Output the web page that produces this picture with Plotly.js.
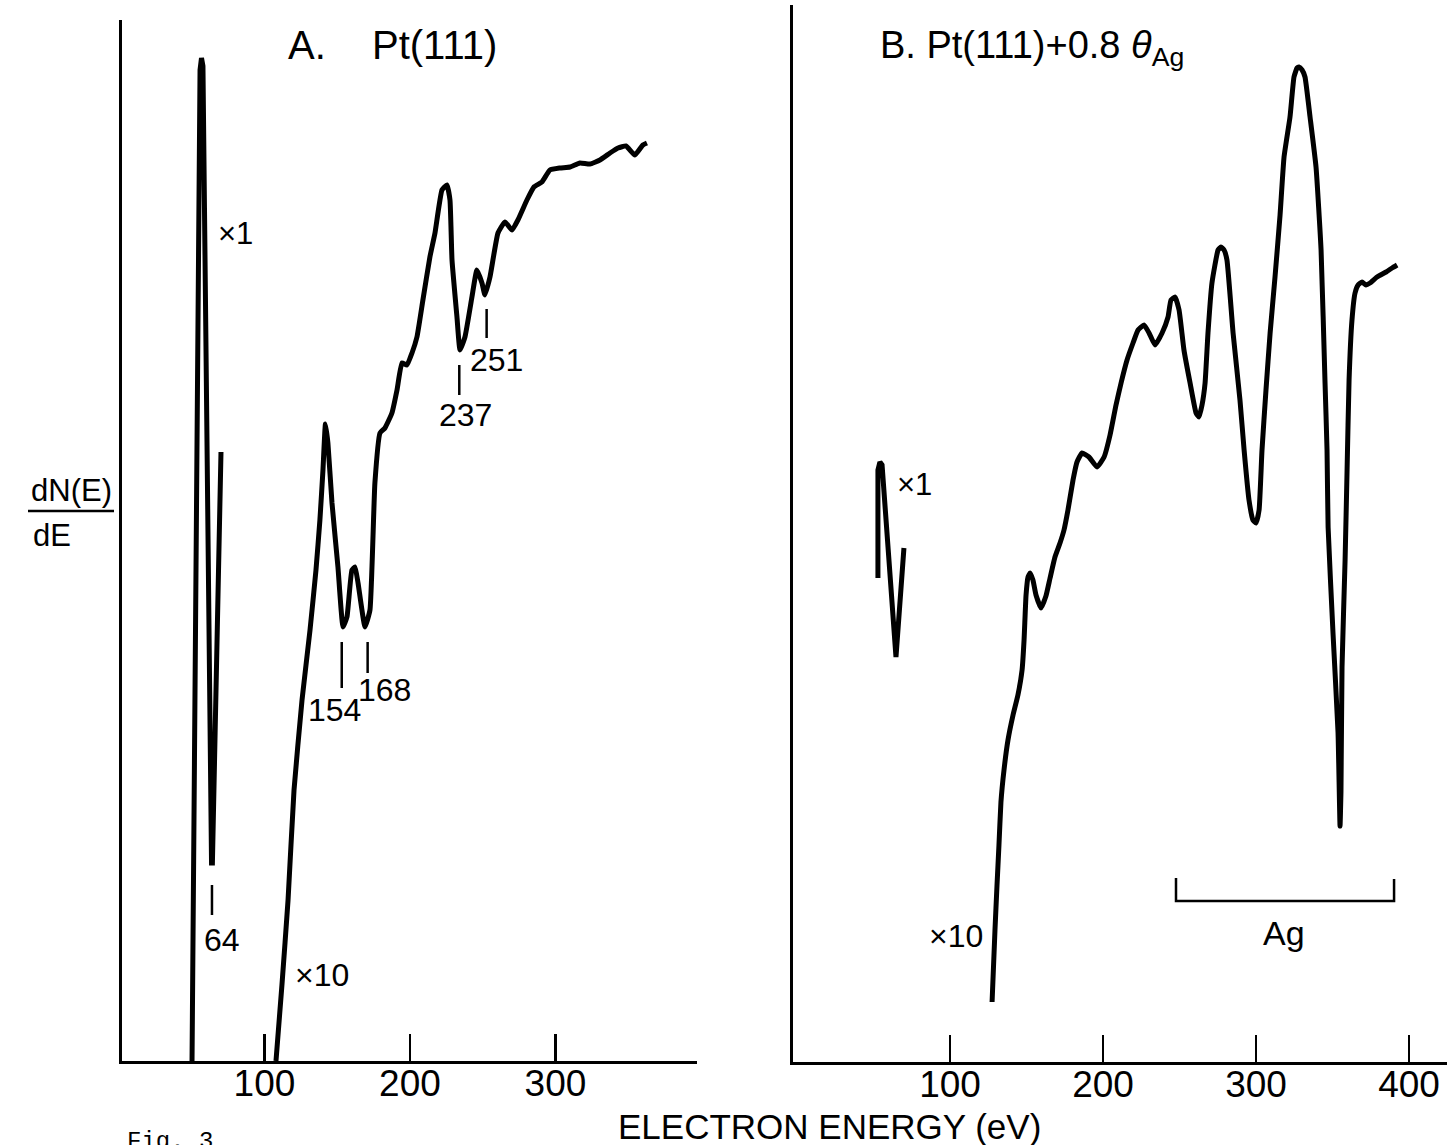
<!DOCTYPE html>
<html>
<head>
<meta charset="utf-8">
<script src="https://cdn.plot.ly/plotly-3.0.1.min.js"></script>
<style>html,body{margin:0;padding:0;background:#fff;}#chart{width:1447px;height:1145px;}</style>
</head>
<body>
<div id="chart"></div>
<script>
// ---------- data (electron energy in eV, dN(E)/dE in arbitrary units) ----------
// Panel A: Pt(111), x1 trace
const energyA_x1 = [50.2, 55.7, 56.7, 57.7, 63.6, 64.2, 70.1];
const dNdE_A_x1  = [0.0, 99.1, 100.3, 99.5, 19.8, 19.8, 60.9];
// Panel A: Pt(111), x10 trace
const energyA_x10 = [107.9,112.0,116.2,120.3,125.8,131.3,135.4,138.1,140.2,141.9,143.6,146.4,150.5,154.0,156.7,160.1,162.2,164.3,169.1,172.5,175.9,179.4,182.8,187.6,191.1,194.5,197.9,201.4,204.8,208.9,213.7,217.2,222.0,225.4,227.5,228.9,232.3,234.4,237.8,242.6,246.0,249.5,251.5,255.0,260.5,265.3,270.1,274.2,280.4,285.2,290.7,296.2,303.1,310.0,316.8,323.7,330.6,337.5,343.0,348.5,354.6,360.1,362.9];
const dNdE_A_x10  = [0.0,7.6,16.1,27.1,36.1,43.1,49.1,54.1,59.1,63.7,61.8,55.8,49.4,43.4,44.4,49.1,49.4,47.8,43.4,45.1,57.8,62.8,63.3,64.8,67.1,69.8,69.6,70.8,72.4,76.1,80.4,82.8,87.1,87.6,86.1,80.1,74.4,71.1,72.4,76.4,79.1,77.8,76.6,78.4,82.8,83.9,83.1,84.1,86.1,87.4,87.9,89.1,89.3,89.4,89.8,89.7,90.1,90.8,91.3,91.5,90.6,91.6,91.8];
// Panel B: Pt(111) + 0.8 theta_Ag, x1 trace
const energyB_x1 = [52.9, 52.9, 54.2, 55.6, 64.7, 69.9];
const dNdE_B_x1  = [48.4, 59.2, 60.0, 59.7, 40.5, 51.4];
// Panel B: x10 trace
const energyB_x10 = [127.5,129.4,130.7,132.0,133.3,135.3,137.9,141.2,144.4,147.1,148.4,149.7,151.0,152.3,154.2,156.2,159.5,162.7,165.4,168.6,171.9,174.5,177.1,180.4,183.0,186.3,190.8,196.1,200.7,204.6,208.5,211.8,215.7,219.6,222.9,226.8,230.1,234.0,238.6,242.5,244.4,247.1,249.7,252.9,256.9,260.8,262.7,264.7,266.7,268.6,271.2,275.2,277.1,279.1,281.0,285.0,289.5,292.2,295.4,298.0,300.0,302.0,303.9,306.5,309.2,312.4,315.7,318.3,322.2,324.8,326.8,328.1,330.1,332.0,335.3,339.2,342.5,345.1,346.4,347.1,350.3,353.6,354.9,355.5,356.2,358.2,359.5,360.8,362.7,364.7,366.7,369.3,371.9,374.5,379.1,385.0,388.9,392.2];
const dNdE_B_x10  = [6.0,13.2,17.6,21.7,26.0,29.2,32.2,34.7,36.7,39.2,42.2,46.7,48.5,48.9,48.2,46.7,45.4,46.6,48.4,50.5,51.9,53.2,55.2,58.2,60.0,60.9,60.5,59.5,60.5,62.7,65.7,67.9,70.2,71.9,73.2,73.7,72.9,71.7,72.9,74.5,76.2,76.5,75.2,71.2,67.9,64.9,64.5,65.7,67.9,72.9,77.9,81.2,81.5,81.2,80.2,72.9,66.2,61.2,56.2,54.2,53.9,55.2,61.2,67.2,72.9,78.5,84.7,90.5,94.5,98.5,99.4,99.5,99.2,98.5,94.5,89.5,81.2,67.9,61.2,53.5,42.9,32.9,23.6,27.0,39.5,50.2,59.2,68.2,74.2,76.9,77.7,78.0,77.7,77.9,78.5,79.0,79.4,79.7];
// tick labels
const tickA = [100, 200, 300];
const tickB = [100, 200, 300, 400];
// peak labels (panel A): text, energy of marker
const peakLabelsA = ["64", "154", "168", "237", "251"];
const peakEnergiesA = [63.9, 153.1, 170.9, 233.9, 252.7];

// ---------- layout helpers ----------
const W = 1447, H = 1145;
const px = p => p / W;
const py = p => 1 - p / H;
const FONT = "Liberation Sans, Arial, sans-serif";
const lineStyle = {color: "#000", width: 5};

const traces = [
  {x: energyA_x1, y: dNdE_A_x1, xaxis: "x", yaxis: "y", mode: "lines", line: Object.assign({shape: "linear"}, lineStyle), hoverinfo: "skip"},
  {x: energyA_x10, y: dNdE_A_x10, xaxis: "x", yaxis: "y", mode: "lines", line: Object.assign({shape: "spline", smoothing: 0.4}, lineStyle), hoverinfo: "skip"},
  {x: energyB_x1, y: dNdE_B_x1, xaxis: "x2", yaxis: "y2", mode: "lines", line: Object.assign({shape: "linear"}, lineStyle), hoverinfo: "skip"},
  {x: energyB_x10, y: dNdE_B_x10, xaxis: "x2", yaxis: "y2", mode: "lines", line: Object.assign({shape: "spline", smoothing: 0.4}, lineStyle), hoverinfo: "skip"}
];

const xaxisCommon = {
  showline: true, linecolor: "#000", linewidth: 3, mirror: false,
  showgrid: false, zeroline: false,
  ticks: "inside", ticklen: 27, tickwidth: 2.5, tickcolor: "#000",
  tickmode: "array", ticklabelstandoff: -12,
  tickfont: {family: FONT, size: 37, color: "#000"},
  fixedrange: true
};
const yaxisCommon = {
  showline: true, linecolor: "#000", linewidth: 3,
  showgrid: false, zeroline: false, ticks: "", showticklabels: false, fixedrange: true
};

const annotations = [];
function addText(text, x, y, xref, yref, size, opts) {
  annotations.push(Object.assign({
    text: text, x: x, y: y, xref: xref, yref: yref, showarrow: false,
    font: {family: FONT, size: size, color: "#000"}, xanchor: "center", yanchor: "middle"
  }, opts || {}));
}
// titles
addText("A.", 129.2, 101.6, "x", "y", 40);
addText("Pt(111)", 217.2, 101.6, "x", "y", 40);
addText("B. Pt(111)+0.8 <i>θ</i><sub>Ag</sub>", 52.9, 104.0, "x2", "y2", 38, {xanchor: "left", yanchor: "top"});
// panel A labels
addText("×1", 80.4, 82.8, "x", "y", 31);
addText("×10", 139.5, 8.6, "x", "y", 32);
const peakLabelPos = [[70.8, 12.1], [148.1, 35.1], [182.8, 37.1], [238.5, 64.6], [259.5, 70.1]];
const peakTickY = [[17.6, 14.6], [41.9, 37.3], [41.9, 38.8], [69.6, 66.6], [75.2, 72.3]];
const shapes = [];
peakLabelsA.forEach((t, i) => {
  addText(t, peakLabelPos[i][0], peakLabelPos[i][1], "x", "y", 32);
  shapes.push({type: "line", xref: "x", yref: "y", x0: peakEnergiesA[i], x1: peakEnergiesA[i],
    y0: peakTickY[i][0], y1: peakTickY[i][1], line: {color: "#000", width: 2.5}});
});
// panel B labels
addText("×1", 77.1, 57.8, "x2", "y2", 31);
addText("×10", 104.0, 12.6, "x2", "y2", 32);
addText("Ag", 318.3, 12.9, "x2", "y2", 34);
// Ag bracket
shapes.push({type: "path", xref: "x2", yref: "y2",
  path: "M 247.7 18.4 L 247.7 16.1 L 390.2 16.1 L 390.2 18.3",
  line: {color: "#000", width: 2.5}});
// y-axis label as a fraction
addText("dN(E)", px(71), py(490), "paper", "paper", 31);
addText("dE", px(52), py(536), "paper", "paper", 31);
shapes.push({type: "line", xref: "paper", yref: "paper", x0: px(28), x1: px(114), y0: py(511), y1: py(511),
  line: {color: "#000", width: 2.5}});
// x-axis title
addText("ELECTRON ENERGY (eV)", px(830), py(1126), "paper", "paper", 35);
// figure caption (cut at bottom edge as in the original)
addText("Fig. 3", px(125), py(1126), "paper", "paper", 24,
  {xanchor: "left", yanchor: "top", font: {family: "Liberation Mono, Courier New, monospace", size: 24, color: "#000"}});

const layout = {
  width: W, height: H,
  margin: {l: 0, r: 0, t: 0, b: 0, pad: 0},
  paper_bgcolor: "#fff", plot_bgcolor: "#fff",
  showlegend: false,
  xaxis: Object.assign({}, xaxisCommon, {domain: [px(122), px(697)], range: [2.06, 397.3], anchor: "y",
    tickvals: tickA, ticktext: tickA.map(String)}),
  yaxis: Object.assign({}, yaxisCommon, {domain: [py(1061), py(20)], range: [0, 104.1], anchor: "x"}),
  xaxis2: Object.assign({}, xaxisCommon, {domain: [px(793), 1], range: [-2.6, 424.8], anchor: "y2",
    tickvals: tickB, ticktext: tickB.map(String)}),
  yaxis2: Object.assign({}, yaxisCommon, {domain: [py(1062), py(5)], range: [0, 105.7], anchor: "x2"}),
  annotations: annotations,
  shapes: shapes
};

Plotly.newPlot("chart", traces, layout, {staticPlot: true, displayModeBar: false});
</script>
</body>
</html>
